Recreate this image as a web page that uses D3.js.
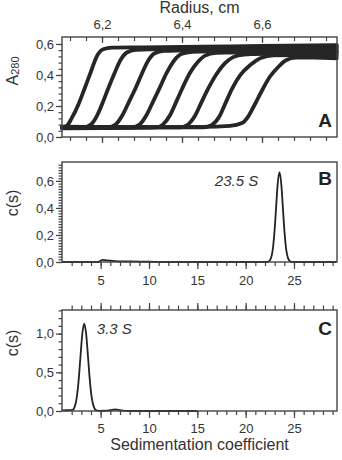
<!DOCTYPE html>
<html>
<head>
<meta charset="utf-8">
<script src="https://cdnjs.cloudflare.com/ajax/libs/d3/7.8.5/d3.min.js"></script>
<style>
body { margin: 0; background: #fff; }
text { font-family: "Liberation Sans", Arial, sans-serif; fill: #333; }
.axis line { stroke: #444; stroke-width: 1.2; }
.axis text { font-size: 13px; fill: #333; font-family: "Liberation Sans", Arial, sans-serif; }
.frame { fill: none; stroke: #444; stroke-width: 1.4; }
.scan { fill: none; stroke: #262626; stroke-width: 3.8; stroke-linejoin: round; stroke-linecap: round; }
.cs { fill: none; stroke: #222; stroke-width: 1.8; }
</style>
</head>
<body>
<svg id="chart" width="342" height="460"></svg>
<script>
// ---- data ----
// panel A: absorbance scans, [radius cm, A280]
const scan1 = [[6.10,0.060],[6.112,0.072],[6.124,0.12],[6.141,0.21],[6.157,0.316],[6.174,0.434],[6.187,0.52],[6.203,0.566],[6.225,0.576],[6.30,0.578],[6.45,0.582],[6.60,0.588],[6.787,0.592]];
const scan2 = [[6.10,0.062],[6.155,0.063],[6.172,0.08],[6.188,0.14],[6.203,0.23],[6.215,0.31],[6.231,0.41],[6.246,0.495],[6.262,0.545],[6.285,0.562],[6.40,0.57],[6.60,0.578],[6.787,0.582]];
const scan3 = [[6.10,0.058],[6.215,0.062],[6.234,0.08],[6.251,0.14],[6.268,0.23],[6.283,0.31],[6.30,0.41],[6.316,0.495],[6.332,0.54],[6.355,0.555],[6.45,0.562],[6.60,0.567],[6.787,0.572]];
const scan4 = [[6.10,0.064],[6.275,0.062],[6.294,0.08],[6.311,0.14],[6.328,0.23],[6.343,0.31],[6.361,0.41],[6.381,0.495],[6.398,0.535],[6.425,0.55],[6.55,0.555],[6.787,0.56]];
const scan5 = [[6.10,0.056],[6.335,0.062],[6.352,0.08],[6.37,0.14],[6.386,0.23],[6.40,0.31],[6.419,0.41],[6.44,0.485],[6.458,0.525],[6.485,0.542],[6.60,0.548],[6.787,0.55]];
const scan6 = [[6.10,0.066],[6.395,0.062],[6.412,0.075],[6.431,0.13],[6.448,0.22],[6.465,0.31],[6.486,0.405],[6.507,0.475],[6.528,0.515],[6.555,0.532],[6.65,0.538],[6.787,0.54]];
const scan7 = [[6.10,0.06],[6.455,0.063],[6.475,0.078],[6.493,0.13],[6.509,0.22],[6.525,0.31],[6.546,0.40],[6.571,0.465],[6.597,0.51],[6.628,0.527],[6.70,0.528],[6.787,0.525]];
const scan8 = [[6.10,0.062],[6.45,0.065],[6.52,0.072],[6.55,0.09],[6.565,0.13],[6.58,0.20],[6.60,0.30],[6.62,0.39],[6.64,0.45],[6.66,0.495],[6.685,0.512],[6.73,0.512],[6.787,0.508]];
const scans = [scan1, scan2, scan3, scan4, scan5, scan6, scan7, scan8];

// panels B and C: c(s) distributions, [s, c(s)]
const distB = [[1,0],[4.8,0],[5.0,0.01],[5.2,0.016],[5.6,0.012],[6.5,0.007],[8,0.004],[10,0.002],[11.5,0],[22.3,0],[22.4,0.005],[22.6,0.025],[22.8,0.09],[23.0,0.24],[23.2,0.46],[23.3,0.565],[23.5,0.665],[23.7,0.565],[23.8,0.46],[24.0,0.24],[24.2,0.09],[24.4,0.025],[24.6,0.005],[24.8,0],[29.4,0]];
const distC = [[1.0,0.008],[1.6,0.01],[2.1,0.014],[2.3,0.05],[2.5,0.153],[2.7,0.367],[2.9,0.685],[3.1,0.995],[3.3,1.13],[3.5,0.995],[3.7,0.685],[3.9,0.367],[4.1,0.153],[4.3,0.05],[4.5,0.013],[4.8,0.002],[5.5,0.003],[6.0,0.01],[6.5,0.02],[7.0,0.01],[7.5,0.002],[8,0],[15,0]];

// tick labels
const radiusTicks = [6.2, 6.4, 6.6];
const absTicks = [0, 0.2, 0.4, 0.6];
const sedTicks = [5, 10, 15, 20, 25];
const csTicksB = [0, 0.2, 0.4, 0.6];
const csTicksC = [0, 0.5, 1.0];
const peakLabelB = "23.5 S";
const peakLabelC = "3.3 S";

const svg = d3.select("#chart");
const comma = d => d3.format(".1f")(d).replace(".", ",");
const left = 62, right = 337;

function addAxis(axis, tx, ty) {
    const g = svg.append("g")
        .attr("class", "axis")
        .attr("transform", "translate(" + tx + "," + ty + ")")
        .call(axis);
    g.select(".domain").remove();
    return g;
}

// ---------- panel A ----------
const xA = d3.scaleLinear().domain([6.1, 6.7875]).range([left, right]);
const yA = d3.scaleLinear().domain([0, 0.645]).range([137, 37]);
const minorR = d3.range(6.12, 6.78, 0.04);

addAxis(d3.axisTop(xA).tickValues(minorR).tickSizeInner(-4).tickSizeOuter(0).tickFormat(""), 0, 37);
addAxis(d3.axisTop(xA).tickValues(radiusTicks).tickSizeInner(-6).tickSizeOuter(0).tickPadding(8).tickFormat(comma), 0, 37);
addAxis(d3.axisBottom(xA).tickValues(minorR).tickSize(4).tickFormat(""), 0, 137);
addAxis(d3.axisBottom(xA).tickValues(radiusTicks).tickSize(6).tickFormat(""), 0, 137);
addAxis(d3.axisLeft(yA).tickValues(d3.range(0, 0.64, 0.04)).tickSize(3.5).tickFormat(""), left, 0);
addAxis(d3.axisLeft(yA).tickValues(absTicks).tickSize(6).tickPadding(2).tickFormat(comma), left, 0);

const scanLine = d3.line()
    .x(d => xA(d[0]))
    .y(d => yA(d[1]))
    .curve(d3.curveMonotoneX);

svg.append("g").selectAll("path")
    .data(scans)
    .join("path")
    .attr("class", "scan")
    .attr("d", scanLine);

svg.append("rect").attr("class", "frame")
    .attr("x", left).attr("y", 37).attr("width", right - left).attr("height", 100);

svg.append("text")
    .attr("x", (left + right) / 2).attr("y", 12.5)
    .attr("text-anchor", "middle")
    .style("font-size", "16px")
    .text("Radius, cm");

const aLabel = svg.append("text")
    .attr("transform", "translate(18,71) rotate(-90)")
    .attr("text-anchor", "middle")
    .style("font-size", "16px");
aLabel.append("tspan").text("A");
aLabel.append("tspan").attr("dy", 1).style("font-size", "11px").text("280");

svg.append("text")
    .attr("x", 332).attr("y", 127)
    .attr("text-anchor", "end")
    .style("font-size", "19px").style("font-weight", "bold").style("fill", "#222")
    .text("A");

// ---------- panel B ----------
const xS = d3.scaleLinear().domain([1, 29.45]).range([left, right]);
const yB = d3.scaleLinear().domain([0, 0.74]).range([262, 162]);
const minorS = d3.range(2, 30, 1);

addAxis(d3.axisBottom(xS).tickValues(minorS).tickSize(4).tickFormat(""), 0, 262);
addAxis(d3.axisBottom(xS).tickValues(sedTicks).tickSize(7).tickPadding(7), 0, 262);
addAxis(d3.axisLeft(yB).tickValues(d3.range(0, 0.74, 0.02)).tickSize(3.5).tickFormat(""), left, 0);
addAxis(d3.axisLeft(yB).tickValues(csTicksB).tickSize(6).tickPadding(2).tickFormat(comma), left, 0);

svg.append("path")
    .datum(distB)
    .attr("class", "cs")
    .attr("d", d3.line().x(d => xS(d[0])).y(d => yB(d[1])).curve(d3.curveMonotoneX));

svg.append("rect").attr("class", "frame")
    .attr("x", left).attr("y", 162).attr("width", right - left).attr("height", 100);

svg.append("text")
    .attr("x", xS(21.3)).attr("y", yB(0.562))
    .attr("text-anchor", "end")
    .style("font-size", "15px").style("font-style", "italic")
    .text(peakLabelB);

svg.append("text")
    .attr("transform", "translate(18,203) rotate(-90)")
    .attr("text-anchor", "middle")
    .style("font-size", "16px")
    .text("c(s)");

svg.append("text")
    .attr("x", 332).attr("y", 185)
    .attr("text-anchor", "end")
    .style("font-size", "19px").style("font-weight", "bold").style("fill", "#222")
    .text("B");

// ---------- panel C ----------
const yC = d3.scaleLinear().domain([0, 1.305]).range([411, 310]);

addAxis(d3.axisTop(xS).tickValues(minorS).tickSize(4.5).tickFormat(""), 0, 310);
addAxis(d3.axisTop(xS).tickValues(sedTicks).tickSize(7).tickFormat(""), 0, 310);
addAxis(d3.axisBottom(xS).tickValues(minorS).tickSize(4).tickFormat(""), 0, 411);
addAxis(d3.axisBottom(xS).tickValues(sedTicks).tickSize(7).tickPadding(6), 0, 411);
addAxis(d3.axisLeft(yC).tickValues(d3.range(0, 1.31, 0.1)).tickSize(3.5).tickFormat(""), left, 0);
addAxis(d3.axisLeft(yC).tickValues(csTicksC).tickSize(6).tickPadding(2).tickFormat(comma), left, 0);

svg.append("path")
    .datum(distC)
    .attr("class", "cs")
    .attr("d", d3.line().x(d => xS(d[0])).y(d => yC(d[1])).curve(d3.curveMonotoneX));

svg.append("rect").attr("class", "frame")
    .attr("x", left).attr("y", 310).attr("width", right - left).attr("height", 101);

svg.append("text")
    .attr("x", xS(4.6)).attr("y", yC(0.99))
    .style("font-size", "15px").style("font-style", "italic")
    .text(peakLabelC);

svg.append("text")
    .attr("transform", "translate(18,343) rotate(-90)")
    .attr("text-anchor", "middle")
    .style("font-size", "16px")
    .text("c(s)");

svg.append("text")
    .attr("x", 332).attr("y", 335)
    .attr("text-anchor", "end")
    .style("font-size", "19px").style("font-weight", "bold").style("fill", "#222")
    .text("C");

svg.append("text")
    .attr("x", (left + right) / 2).attr("y", 449.5)
    .attr("text-anchor", "middle")
    .style("font-size", "16px")
    .text("Sedimentation coefficient");
</script>
</body>
</html>
